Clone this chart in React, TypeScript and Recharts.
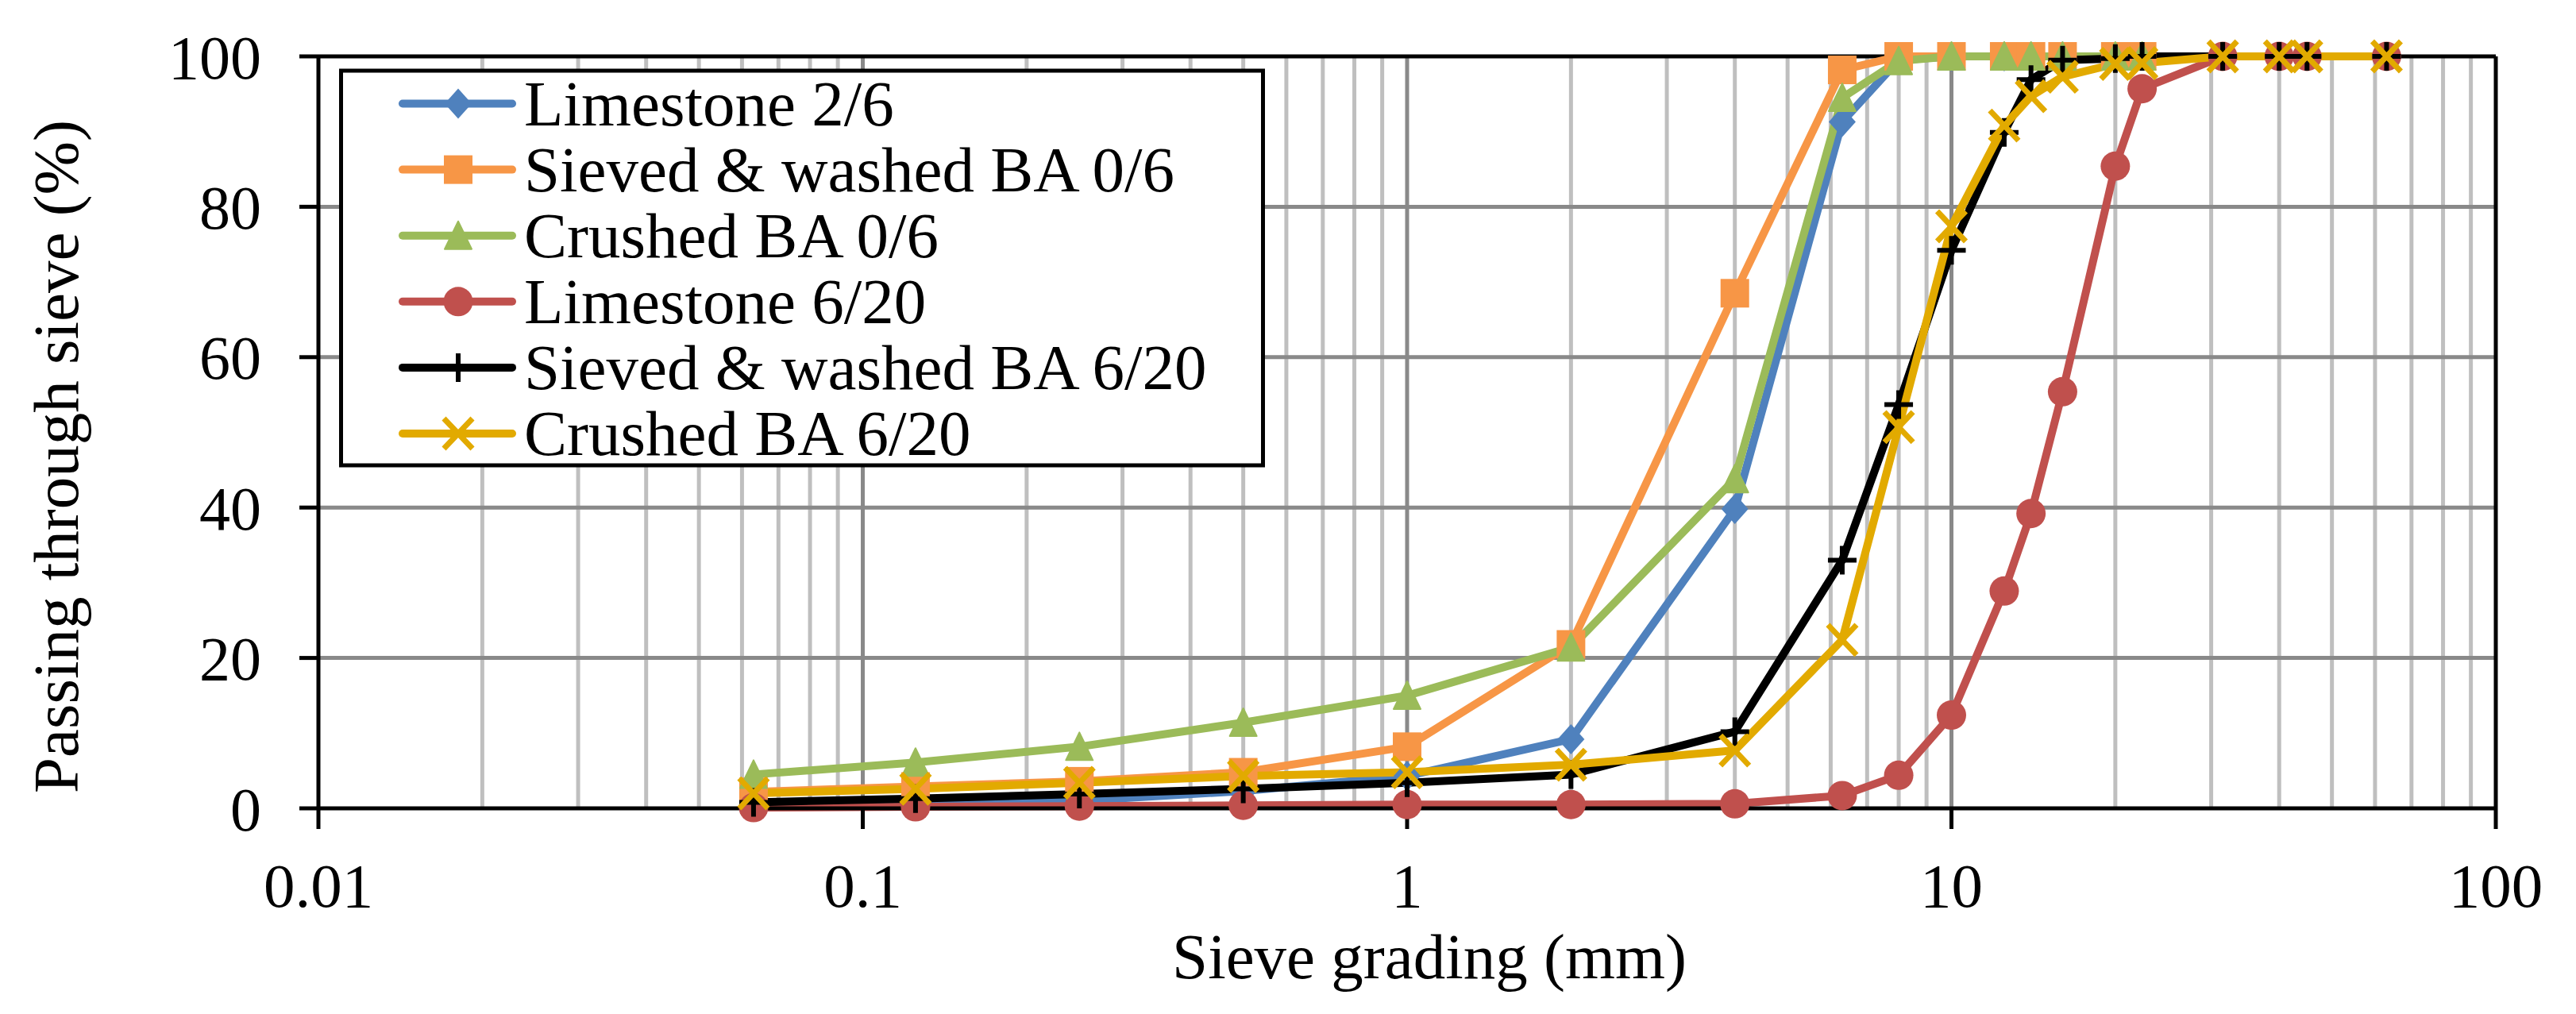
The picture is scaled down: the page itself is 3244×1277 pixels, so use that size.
import React from "react";
import { LineChart, Line, XAxis, YAxis, ReferenceLine } from "recharts";

document.body.style.margin = "0";

// sieve sizes (mm)
const sieves06 = [0.063, 0.125, 0.25, 0.5, 1, 2, 4, 6.3, 8, 10, 12.5, 14, 16, 20, 22.4];
const sieves620 = [0.063, 0.125, 0.25, 0.5, 1, 2, 4, 6.3, 8, 10, 12.5, 14, 16, 20, 22.4, 31.5, 40, 45, 63];

// passing (%)
const limestone26 = [0.7, 0.8, 1.0, 2.3, 4.3, 9.2, 39.8, 91.3, 99.5, 100, 100, 100, 100];
const sievedBA06 = [2.2, 2.9, 3.6, 4.8, 8.2, 21.8, 68.5, 98.2, 100, 100, 100, 100, 100, 100, 100];
const crushedBA06 = [4.5, 6.1, 8.2, 11.4, 15.0, 21.4, 43.8, 94.5, 99.4, 100, 100, 100, 100, 100, 100];
const limestone620 = [0.1, 0.2, 0.3, 0.4, 0.5, 0.5, 0.6, 1.7, 4.4, 12.4, 28.9, 39.2, 55.4, 85.4, 95.7, 100, 100, 100, 100];
const sievedBA620 = [0.8, 1.3, 1.9, 2.6, 3.4, 4.5, 10.2, 33.0, 53.7, 74.2, 89.9, 96.9, 99.5, 99.7, 100, 100, 100, 100, 100];
const crushedBA620 = [2.0, 2.6, 3.4, 4.3, 4.8, 5.8, 7.7, 22.4, 50.7, 77.4, 90.8, 94.7, 97.3, 99.0, 99.1, 100, 100, 100, 100];

const xTicks = [0.01, 0.1, 1, 10, 100];
const yTicks = [0, 20, 40, 60, 80, 100];
const yMinorTicks = [4, 8, 12, 16, 24, 28, 32, 36, 44, 48, 52, 56, 64, 68, 72, 76, 84, 88, 92, 96];
const majorX = [0.1, 1, 10];
const minorX = [0.01, 0.1, 1, 10].flatMap((d) => [2, 3, 4, 5, 6, 7, 8, 9].map((m) => +(d * m).toPrecision(3)));
const gridY = [20, 40, 60, 80];

const FONT = "'Liberation Serif', 'Times New Roman', serif";

const toPoints = (xs: number[], ys: number[]) => ys.map((y, i) => ({ x: xs[i], y }));

const series = [
  { name: "Limestone 2/6", color: "#4F81BD", shape: "diamond", data: toPoints(sieves06, limestone26) },
  { name: "Sieved & washed BA 0/6", color: "#F79646", shape: "square", data: toPoints(sieves06, sievedBA06) },
  { name: "Crushed BA 0/6", color: "#9BBB59", shape: "triangle", data: toPoints(sieves06, crushedBA06) },
  { name: "Limestone 6/20", color: "#C0504D", shape: "circle", data: toPoints(sieves620, limestone620) },
  { name: "Sieved & washed BA 6/20", color: "#000000", shape: "plus", data: toPoints(sieves620, sievedBA620) },
  { name: "Crushed BA 6/20", color: "#E2AA00", shape: "x", data: toPoints(sieves620, crushedBA620) },
];

function Marker({ shape, cx, cy, color }: { shape: string; cx: number; cy: number; color: string }) {
  if (cx == null || cy == null) return null;
  switch (shape) {
    case "diamond":
      return <polygon points={`${cx},${cy - 19} ${cx + 17},${cy} ${cx},${cy + 19} ${cx - 17},${cy}`} fill={color} />;
    case "square":
      return <rect x={cx - 18} y={cy - 18} width={36} height={36} fill={color} />;
    case "triangle":
      return (
        <polygon
          points={`${cx},${cy - 18} ${cx + 17},${cy + 17} ${cx - 17},${cy + 17}`}
          fill={color}
          stroke={color}
          strokeWidth={2}
          strokeLinejoin="round"
        />
      );
    case "circle":
      return <circle cx={cx} cy={cy} r={18.5} fill={color} />;
    case "plus":
      return <path d={`M${cx - 18},${cy}H${cx + 18}M${cx},${cy - 18}V${cy + 18}`} stroke={color} strokeWidth={6} />;
    case "x":
      return (
        <path
          d={`M${cx - 18},${cy - 19}L${cx + 18},${cy + 19}M${cx + 18},${cy - 19}L${cx - 18},${cy + 19}`}
          stroke={color}
          strokeWidth={7}
        />
      );
    default:
      return null;
  }
}

function LegendBox() {
  const rowY = (i: number) => 130.5 + i * 83.1;
  return (
    <g>
      <rect x={429.5} y={89} width={1161} height={497} fill="#fff" stroke="#000" strokeWidth={5} />
      {series.map((s, i) => (
        <g key={s.name}>
          <line x1={507} x2={645} y1={rowY(i)} y2={rowY(i)} stroke={s.color} strokeWidth={10} strokeLinecap="round" />
          <Marker shape={s.shape} cx={577} cy={rowY(i)} color={s.color} />
          <text x={660} y={rowY(i) + 27} fontFamily={FONT} fontSize={81} fill="#000">
            {s.name}
          </text>
        </g>
      ))}
    </g>
  );
}

export default function App() {
  return (
    <div style={{ position: "relative", width: 3244, height: 1277, background: "#fff" }}>
      <LineChart width={3244} height={1277} margin={{ top: 71, right: 101, left: 0, bottom: 0 }}>
        {minorX.map((v) => (
          <ReferenceLine key={"mx" + v} x={v} stroke="#BFBFBF" strokeWidth={5} />
        ))}
        {majorX.map((v) => (
          <ReferenceLine key={"Mx" + v} x={v} stroke="#898989" strokeWidth={5} />
        ))}
        {gridY.map((v) => (
          <ReferenceLine key={"gy" + v} y={v} stroke="#898989" strokeWidth={5} />
        ))}
        <ReferenceLine y={100} stroke="#000" strokeWidth={5} />
        <ReferenceLine x={100} stroke="#000" strokeWidth={5} />
        <XAxis
          dataKey="x"
          type="number"
          scale="log"
          domain={[0.01, 100]}
          ticks={xTicks}
          tickFormatter={(v) => String(v)}
          height={259}
          tickSize={26}
          tickMargin={42}
          axisLine={{ stroke: "#000", strokeWidth: 5 }}
          tickLine={{ stroke: "#000", strokeWidth: 5 }}
          tick={{ fill: "#000", fontSize: 79, fontFamily: FONT }}
          interval={0}
        />
        <YAxis
          type="number"
          domain={[0, 100]}
          ticks={yTicks}
          width={401}
          tickSize={24}
          tickMargin={48}
          axisLine={{ stroke: "#000", strokeWidth: 5 }}
          tickLine={{ stroke: "#000", strokeWidth: 5 }}
          tick={{ fill: "#000", fontSize: 78, fontFamily: FONT }}
          interval={0}
        />
        <YAxis
          yAxisId="minor"
          type="number"
          mirror
          width={0}
          domain={[0, 100]}
          ticks={yMinorTicks}
          tickSize={17}
          axisLine={false}
          tickFormatter={() => ""}
          tickLine={{ stroke: "#000", strokeWidth: 5 }}
          interval={0}
        />
        {series.map((s) => (
          <Line
            key={s.name}
            data={s.data}
            dataKey="y"
            name={s.name}
            type="linear"
            stroke={s.color}
            strokeWidth={10}
            strokeLinejoin="round"
            isAnimationActive={false}
            dot={(p: any) => <Marker key={`${s.name}-${p.index}`} shape={s.shape} cx={p.cx} cy={p.cy} color={s.color} />}
            activeDot={false}
          />
        ))}
      </LineChart>
      <svg width={3244} height={1277} style={{ position: "absolute", left: 0, top: 0, pointerEvents: "none" }}>
        <LegendBox />
        <text x={-575} y={98} transform="rotate(-90)" textAnchor="middle" fontFamily={FONT} fontSize={81} fill="#000">
          Passing through sieve (%)
        </text>
        <text x={1800} y={1232} textAnchor="middle" fontFamily={FONT} fontSize={81} fill="#000">
          Sieve grading (mm)
        </text>
      </svg>
    </div>
  );
}
